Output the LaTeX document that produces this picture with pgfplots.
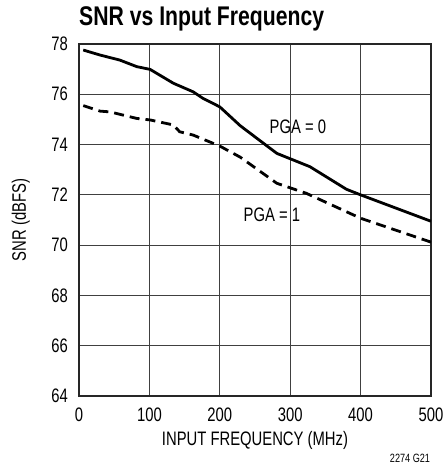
\documentclass[border=0pt]{standalone}
\usepackage{fontspec}
\setmainfont{Liberation Sans}[FakeStretch=0.76]
\newfontfamily\titlefont{Liberation Sans}[FakeStretch=0.785]
\usepackage{pgfplots}
\pgfplotsset{compat=1.18}
\begin{document}
\fontsize{19.5bp}{21bp}\selectfont
\begin{tikzpicture}
\begin{axis}[
  name=ax,
  scale only axis,
  width=352bp, height=352bp,
  xmin=0, xmax=500, ymin=64, ymax=78,
  xtick={0,100,...,500}, ytick={64,66,...,78},
  major tick length=0pt,
  grid=major,
  major grid style={black!75, line width=0.8bp},
  axis line style={black!85, line width=1.4bp},
  /pgf/number format/assume math mode=true,
  tick label style={font=\fontsize{19.5bp}{21bp}\selectfont, inner sep=0pt},
  y tick label style={xshift=-11bp},
  x tick label style={yshift=-12bp},
  xlabel={INPUT FREQUENCY (MHz)},
  ylabel={SNR (dBFS)},
  label style={font=\fontsize{19.5bp}{21bp}\selectfont, inner sep=0pt},
  x label style={at={(axis description cs:0.5,-0.125)}, anchor=center},
  y label style={at={(axis description cs:-0.165,0.5)}, anchor=center},
]
\addplot[black, line width=2.8bp, line join=round] coordinates {
(6,77.76) (30,77.56) (58,77.36) (82,77.1) (101,76.99) (134,76.44) (162,76.1) (176,75.84) (200,75.5) (229,74.75) (281,73.65) (328,73.12) (380,72.22) (400,72.0) (500,70.95)};
\addplot[black, line width=2.8bp, dash pattern=on 10bp off 6bp] coordinates {
(6,75.55) (30,75.33) (44,75.3) (82,75.04) (101,74.98) (134,74.78) (143,74.51) (162,74.38) (200,73.94) (229,73.5) (281,72.46) (323,72.06) (400,71.07) (500,70.12)};
\node[inner sep=0pt] at (axis cs:311,74.72) {PGA = 0};
\node[inner sep=0pt] at (axis cs:274,71.2) {PGA = 1};
\end{axis}
\node[anchor=base west, inner sep=0pt, font=\titlefont\fontsize{27bp}{30bp}\selectfont\bfseries] at ([yshift=18bp]ax.north west) {SNR vs Input Frequency};
\node[inner sep=0pt, font=\fontsize{12bp}{13bp}\selectfont, anchor=center] at ([xshift=-21bp,yshift=-62bp]ax.south east) {2274 G21};
\path (ax.south west) ++(-79bp,-69bp) rectangle ++(446bp,465bp);
\end{tikzpicture}
\end{document}
